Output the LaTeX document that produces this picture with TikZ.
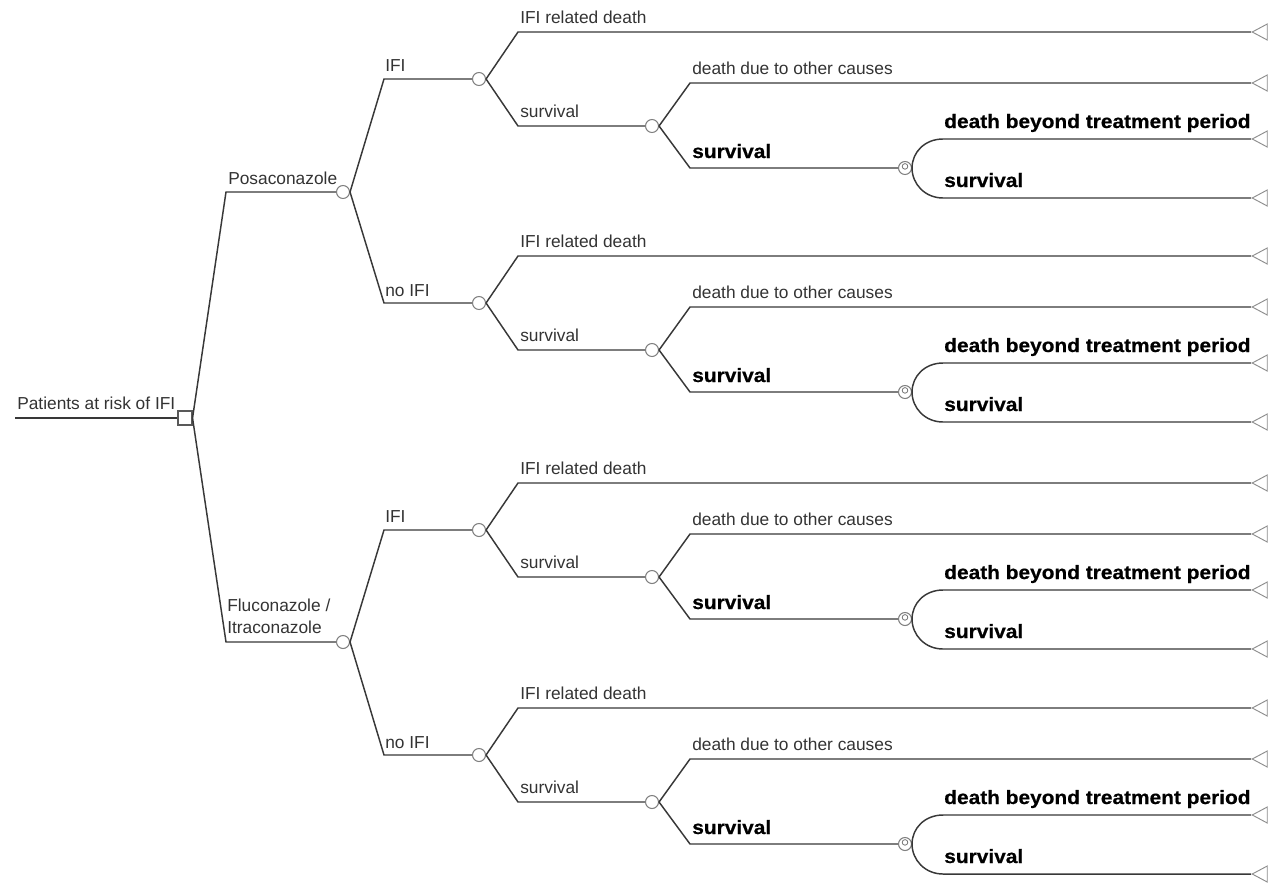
\documentclass[tikz,border=0pt]{standalone}
\usepackage{fontspec}
\setmainfont{Liberation Sans}
\newfontfamily\heavyfont[FakeBold=0.6,FakeStretch=1.08]{Liberation Sans Bold}
\usetikzlibrary{shapes.geometric,calc}

\tikzset{
  branch/.style={draw=black!78, line width=1.1pt},
  chance/.style={circle, draw=black!50, line width=0.8pt, fill=white, minimum size=9.75pt, inner sep=0pt},
  decision/.style={rectangle, draw=black!65, line width=0.8pt, fill=white, minimum size=10.5pt, inner sep=0pt},
  markov/.style={circle, draw=black!50, line width=0.8pt, fill=white, minimum size=9.75pt, inner sep=0pt,
    path picture={\draw[black!55, line width=0.6pt] ([yshift=1.2pt]path picture bounding box.center) circle (2.1pt);}},
  term/.style={isosceles triangle, isosceles triangle stretches, shape border rotate=180,
    draw=black!45, line width=0.7pt, minimum height=11.25pt, minimum width=12pt, inner sep=0pt, anchor=apex},
  lab/.style={anchor=base west, inner sep=0pt, text=black!80, font=\fontsize{13}{16}\selectfont},
  blab/.style={anchor=base west, inner sep=0pt, text=black, font=\fontsize{14.5}{17}\heavyfont}
}

% One infection-status subtree: chance node at (479,#2)
\newcommand\outcomegroup[2]{%
  \node[chance] (#1) at (479,#2) {};
  \coordinate (#1-d) at (518,{#2-47});
  \node[term] (#1-dt) at (1251,{#2-47}) {};
  \coordinate (#1-s) at (518,{#2+47});
  \node[chance] (#1-sc) at (652,{#2+47}) {};
  \coordinate (#1-o) at (690,{#2+4});
  \node[term] (#1-ot) at (1251,{#2+4}) {};
  \coordinate (#1-b) at (690,{#2+89});
  \node[markov] (#1-m) at (905,{#2+89}) {};
  \coordinate (#1-p) at (943,{#2+60});
  \node[term] (#1-pt) at (1251,{#2+60}) {};
  \coordinate (#1-v) at (943,{#2+119});
  \node[term] (#1-vt) at (1251,{#2+119}) {};
  \draw[branch] (#1.east) -- (#1-d) -- (#1-dt.apex);
  \draw[branch] (#1.east) -- (#1-s) -- (#1-sc.west);
  \draw[branch] (#1-sc.east) -- (#1-o) -- (#1-ot.apex);
  \draw[branch] (#1-sc.east) -- (#1-b) -- (#1-m.west);
  \draw[branch] (#1-m.east) .. controls ($(#1-m.east)+(0,-16)$) and ($(#1-p)+(-18,0)$) .. (#1-p) -- (#1-pt.apex);
  \draw[branch] (#1-m.east) .. controls ($(#1-m.east)+(0,16)$) and ($(#1-v)+(-18,0)$) .. (#1-v) -- (#1-vt.apex);
  \node[lab] (#1-dl) at ($(#1-d)+(2,-9)$) {IFI related death};
  \node[lab] (#1-sl) at ($(#1-s)+(2,-9)$) {survival};
  \node[lab] (#1-ol) at ($(#1-o)+(2,-9)$) {death due to other causes};
  \node[blab] (#1-bl) at ($(#1-b)+(2,-10)$) {survival};
  \node[blab] (#1-pl) at ($(#1-p)+(1,-11)$) {death beyond treatment period};
  \node[blab] (#1-vl) at ($(#1-v)+(1,-11)$) {survival};
}

\begin{document}
\begin{tikzpicture}[x=0.75pt, y=-0.75pt]
  \useasboundingbox (0,0) rectangle (1276,882);

  % root decision
  \coordinate (start) at (15,418);
  \node[decision] (root) at (185,418) {};
  \draw[branch, line width=1.4pt] (start) -- (root.west);
  \node[lab] (rootl) at (17,409) {Patients at risk of IFI};

  % treatment arms
  \coordinate (posa-k) at (226,192);
  \node[chance] (posa) at (343,192) {};
  \coordinate (flu-k) at (226,642);
  \node[chance] (flu) at (343,642) {};
  \draw[branch] (root.east) -- (posa-k) -- (posa.west);
  \draw[branch] (root.east) -- (flu-k) -- (flu.west);
  \node[lab] (posal) at (228,184) {Posaconazole};
  \node[lab, anchor=south west, align=left, text depth=0pt,
        font=\fontsize{13}{16.5}\selectfont] (flul) at (227,634) {Fluconazole /\\Itraconazole};

  % infection status
  \coordinate (pi-k) at (384,79);
  \coordinate (pn-k) at (384,303);
  \coordinate (fi-k) at (384,530);
  \coordinate (fn-k) at (384,755);

  \outcomegroup{pi}{79}
  \outcomegroup{pn}{303}
  \outcomegroup{fi}{530}
  \outcomegroup{fn}{755}

  \draw[branch] (posa.east) -- (pi-k) -- (pi.west);
  \draw[branch] (posa.east) -- (pn-k) -- (pn.west);
  \draw[branch] (flu.east) -- (fi-k) -- (fi.west);
  \draw[branch] (flu.east) -- (fn-k) -- (fn.west);

  \node[lab] (pil) at (385,71) {IFI};
  \node[lab] (pnl) at (385,296) {no IFI};
  \node[lab] (fil) at (385,522) {IFI};
  \node[lab] (fnl) at (385,748) {no IFI};
\end{tikzpicture}
\end{document}
